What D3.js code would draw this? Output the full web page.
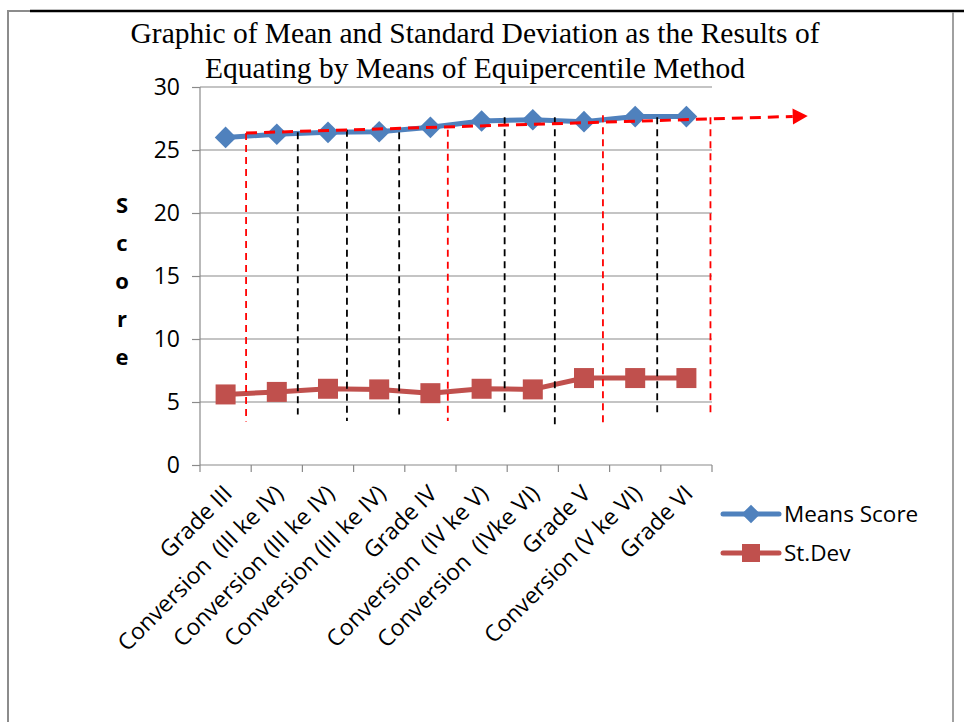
<!DOCTYPE html>
<html>
<head>
<meta charset="utf-8">
<script src="https://cdn.jsdelivr.net/npm/d3@7"></script>
<style>
  body { margin: 0; background: #fff; }
  text { font-family: "Open Sans", Lato, sans-serif; }
</style>
</head>
<body>
<div id="chart"></div>
<script>
// categories on the x axis
var categories = [
  "Grade III",
  "Conversion  (III ke IV)",
  "Conversion (III ke IV)",
  "Conversion (III ke IV)",
  "Grade IV",
  "Conversion  (IV ke V)",
  "Conversion  (IVke VI)",
  "Grade V",
  "Conversion (V ke VI)",
  "Grade VI"
];

// the two series
var meansScore = [26.0, 26.25, 26.4, 26.45, 26.8, 27.3, 27.4, 27.25, 27.65, 27.65];
var stDev = [5.6, 5.8, 6.05, 6.0, 5.7, 6.05, 6.0, 6.9, 6.9, 6.9];

var yTicks = [0, 5, 10, 15, 20, 25, 30];

// hand drawn guide lines (position in category index units, top / bottom in score units)
var guideAt = [0.4, 1.41, 2.37, 3.39, 4.34, 5.45, 6.43, 7.37, 8.43, 9.47];
var guideTop = [26.35, 26.4, 26.6, 26.4, 26.6, 27.6, 27.6, 27.75, 27.6, 27.6];
var guideBottom = [3.45, 4.0, 3.5, 4.0, 3.5, 4.1, 3.2, 3.2, 3.9, 4.0];
var guideRed = [true, false, false, false, true, false, false, true, false, true];

// red trend arrow: start and tip
var trendFrom = [0.4, 26.35];
var trendTo = [11.37, 27.7];

var width = 964, height = 722;
var plotLeft = 200, plotRight = 712, plotTop = 87, plotBottom = 465;

var svg = d3.select("#chart")
  .append("svg")
  .attr("width", width)
  .attr("height", height)

// outer frame
svg.append("line").attr("x1", 8).attr("x2", 8).attr("y1", 10).attr("y2", height)
  .attr("stroke", "#8c8c8c").attr("stroke-width", 2)
svg.append("line").attr("x1", 8).attr("x2", 30).attr("y1", 11).attr("y2", 11)
  .attr("stroke", "#8c8c8c").attr("stroke-width", 2)
svg.append("line").attr("x1", 30).attr("x2", width).attr("y1", 11).attr("y2", 11)
  .attr("stroke", "#000").attr("stroke-width", 2.5)
svg.append("line").attr("x1", 953).attr("x2", 953).attr("y1", 12).attr("y2", height)
  .attr("stroke", "#a0a0a0").attr("stroke-width", 2)

// scales
var x = d3.scaleBand().domain(d3.range(categories.length)).range([plotLeft, plotRight])
var xi = d3.scaleLinear().domain([-0.5, categories.length - 0.5]).range([plotLeft, plotRight])
var y = d3.scaleLinear().domain([0, 30]).range([plotBottom, plotTop])

// gridlines
svg.append("g")
  .selectAll("line")
  .data(yTicks.filter(function(d){ return d > 0 }))
  .enter().append("line")
  .attr("x1", plotLeft).attr("x2", plotRight)
  .attr("y1", function(d){ return y(d) })
  .attr("y2", function(d){ return y(d) })
  .attr("stroke", "#8a8a8a")
  .attr("stroke-width", 1.2)

// y axis
var yAxis = svg.append("g")
  .attr("transform", "translate(" + plotLeft + ",0)")
  .call(d3.axisLeft(y).tickValues(yTicks).tickSize(8).tickPadding(12))
yAxis.selectAll("line, path").attr("stroke", "#8a8a8a").attr("stroke-width", 1.2)
yAxis.select("path").attr("d", "M0," + plotTop + "V" + plotBottom)
yAxis.selectAll("text").attr("font-size", 23).attr("fill", "#000")
  .attr("font-family", "'Open Sans', sans-serif")

// x axis (ticks between categories)
var xAxis = svg.append("g")
  .attr("transform", "translate(0," + plotBottom + ")")
xAxis.append("line").attr("x1", plotLeft).attr("x2", plotRight)
  .attr("stroke", "#8a8a8a").attr("stroke-width", 1.2)
xAxis.selectAll(".tk")
  .data(d3.range(categories.length + 1))
  .enter().append("line")
  .attr("class", "tk")
  .attr("x1", function(d){ return xi(d - 0.5) })
  .attr("x2", function(d){ return xi(d - 0.5) })
  .attr("y1", 0).attr("y2", 7)
  .attr("stroke", "#8a8a8a").attr("stroke-width", 1.2)
xAxis.selectAll(".lbl")
  .data(categories)
  .enter().append("text")
  .attr("class", "lbl")
  .attr("text-anchor", "end")
  .attr("font-size", 23)
  .style("white-space", "pre")
  .attr("transform", function(d, i){
    return "translate(" + (x(i) + x.bandwidth() / 2 + 8) + ",30) rotate(-45)"
  })
  .text(function(d){ return d })

// y title, stacked letters
svg.append("g")
  .selectAll("text")
  .data("Score".split(""))
  .enter().append("text")
  .attr("x", 122)
  .attr("y", function(d, i){ return 213 + i * 38 })
  .attr("text-anchor", "middle")
  .attr("font-size", 22)
  .attr("font-weight", "bold")
  .text(function(d){ return d })

// chart title
var title = svg.append("text")
  .attr("text-anchor", "middle")
  .attr("font-size", 29.5)
  .style("font-family", "'Liberation Serif', 'Times New Roman', serif")
title.append("tspan").attr("x", 475).attr("y", 43)
  .text("Graphic of Mean and Standard Deviation as the Results of")
title.append("tspan").attr("x", 475).attr("y", 78)
  .text("Equating by Means of Equipercentile Method")

var cx = function(d, i){ return x(i) + x.bandwidth() / 2 }
var line = d3.line().x(cx).y(function(d){ return y(d) })

// series lines
svg.append("path").datum(meansScore)
  .attr("d", line).attr("fill", "none")
  .attr("stroke", "#4F81BD").attr("stroke-width", 5).attr("stroke-linejoin", "round")
svg.append("path").datum(stDev)
  .attr("d", line).attr("fill", "none")
  .attr("stroke", "#C0504D").attr("stroke-width", 5).attr("stroke-linejoin", "round")

// markers
var diamond = d3.symbol().type(d3.symbolDiamond2).size(300)
svg.append("g").selectAll("path")
  .data(meansScore)
  .enter().append("path")
  .attr("d", diamond)
  .attr("transform", function(d, i){ return "translate(" + cx(d, i) + "," + y(d) + ")" })
  .attr("fill", "#4F81BD")
svg.append("g").selectAll("rect")
  .data(stDev)
  .enter().append("rect")
  .attr("x", function(d, i){ return cx(d, i) - 10 })
  .attr("y", function(d){ return y(d) - 10 })
  .attr("width", 20).attr("height", 20)
  .attr("fill", "#C0504D")

// dashed guide lines
svg.append("g").selectAll("line")
  .data(guideAt)
  .enter().append("line")
  .attr("x1", function(d){ return xi(d) })
  .attr("x2", function(d){ return xi(d) })
  .attr("y1", function(d, i){ return y(guideTop[i]) })
  .attr("y2", function(d, i){ return y(guideBottom[i]) })
  .attr("stroke", function(d, i){ return guideRed[i] ? "#FF0000" : "#000" })
  .attr("stroke-width", 1.8)
  .attr("stroke-dasharray", "7,5")

// trend arrow
var tx0 = xi(trendFrom[0]), ty0 = y(trendFrom[1])
var tx1 = xi(trendTo[0]), ty1 = y(trendTo[1])
var ang = Math.atan2(ty1 - ty0, tx1 - tx0)
var headLen = 15
svg.append("line")
  .attr("x1", tx0).attr("y1", ty0)
  .attr("x2", tx1 - headLen * Math.cos(ang)).attr("y2", ty1 - headLen * Math.sin(ang))
  .attr("stroke", "#FF0000").attr("stroke-width", 3)
  .attr("stroke-dasharray", "11,7")
svg.append("path")
  .attr("d", "M0,0L-15,-8L-15,8Z")
  .attr("transform", "translate(" + tx1 + "," + ty1 + ") rotate(" + (ang * 180 / Math.PI) + ")")
  .attr("fill", "#FF0000")

// legend
var legend = svg.append("g").attr("transform", "translate(723,514)")
legend.append("line").attr("x1", 0).attr("x2", 56)
  .attr("stroke", "#4F81BD").attr("stroke-width", 5).attr("stroke-linecap", "round")
legend.append("path").attr("d", d3.symbol().type(d3.symbolDiamond2).size(220))
  .attr("transform", "translate(28,0)").attr("fill", "#4F81BD")
legend.append("text").attr("x", 61).attr("y", 8).attr("font-size", 22.5).text("Means Score")
legend.append("line").attr("x1", 0).attr("x2", 56).attr("y1", 39).attr("y2", 39)
  .attr("stroke", "#C0504D").attr("stroke-width", 5).attr("stroke-linecap", "round")
legend.append("rect").attr("x", 19).attr("y", 30).attr("width", 18).attr("height", 18)
  .attr("fill", "#C0504D")
legend.append("text").attr("x", 61).attr("y", 47).attr("font-size", 22.5).text("St.Dev")
</script>
</body>
</html>
